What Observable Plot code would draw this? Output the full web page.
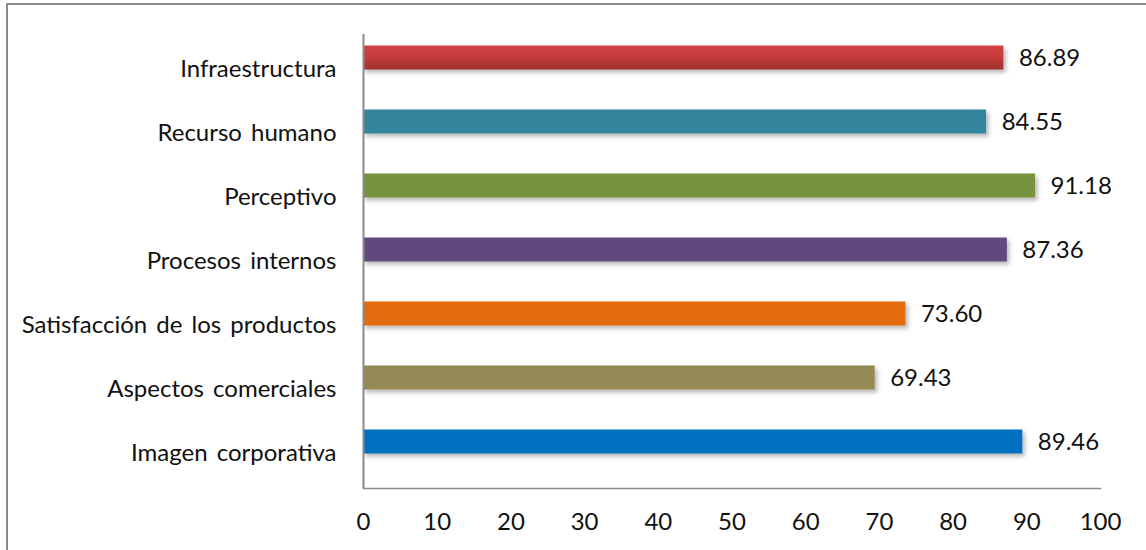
<!DOCTYPE html>
<html>
<head>
<meta charset="utf-8">
<script src="https://cdn.jsdelivr.net/npm/d3@7"></script>
<script src="https://cdn.jsdelivr.net/npm/@observablehq/plot@0.6"></script>
<style>
  html, body { margin: 0; padding: 0; background: #fff; }
  #wrap { position: relative; width: 1146px; height: 550px; overflow: hidden; }
  #border { position: absolute; left: 6px; top: 3px; width: 1200px; height: 600px;
            border-left: 2px solid #8a8a8a; border-top: 2px solid #8a8a8a; pointer-events: none; }
  #wrap svg { position: absolute; left: 0; top: 0; }
</style>
</head>
<body>
<div id="wrap"><div id="border"></div></div>
<script>
const categories = ["Infraestructura", "Recurso humano", "Perceptivo", "Procesos internos",
  "Satisfacción de los productos", "Aspectos comerciales", "Imagen corporativa"];
const values = [86.89, 84.55, 91.18, 87.36, 73.60, 69.43, 89.46];
const colors = ["#C43B3B", "#31859C", "#77933C", "#604A7B", "#E46C0A", "#948A54", "#0070C0"];
const xTicks = [0, 10, 20, 30, 40, 50, 60, 70, 80, 90, 100];

const data = categories.map((c, i) => ({category: c, value: values[i], color: colors[i]}));
const font = "Lato, 'Open Sans', sans-serif";
const fs = 24;

const chart = Plot.plot({
  width: 1146,
  height: 550,
  marginLeft: 363,
  marginRight: 46,
  marginTop: 34,
  marginBottom: 62,
  style: {fontFamily: font, fontSize: fs + "px", color: "#111", background: "transparent"},
  x: {domain: [0, 100], ticks: xTicks, label: null},
  y: {domain: categories, paddingInner: 0.63, paddingOuter: 0.315, label: null},
  color: {type: "identity"},
  marks: [
    Plot.axisX({ticks: xTicks, tickSize: 0, tickPadding: 24, fontSize: fs, label: null}),
    Plot.axisY({tickSize: 0, tickPadding: 27, fontSize: fs, label: null, className: "ylab"}),
    Plot.barX(data, {x: "value", y: "category", fill: "color", dy: -11.5, className: "bars"}),
    Plot.text(data, {x: "value", y: "category", text: d => d.value.toFixed(2), dx: 15, dy: -11.5,
      textAnchor: "start", fontSize: fs, fill: "#111"}),
    Plot.ruleX([0], {stroke: "#8a8a8a", strokeWidth: 2}),
    Plot.frame({anchor: "bottom", stroke: "#8a8a8a", strokeWidth: 1.5})
  ]
});

// decorative: drop shadow + gradient on first bar, slightly wider word spacing like the original
const ns = "http://www.w3.org/2000/svg";
const defs = document.createElementNS(ns, "defs");
defs.innerHTML = `
  <filter id="shadow" x="-5%" y="-50%" width="110%" height="200%">
    <feDropShadow dx="2.5" dy="3" stdDeviation="2" flood-color="#000" flood-opacity="0.28"/>
  </filter>
  <linearGradient id="redgrad" x1="0" y1="0" x2="0" y2="1">
    <stop offset="0" stop-color="#D24343"/>
    <stop offset="0.5" stop-color="#C43B3B"/>
    <stop offset="1" stop-color="#A02F2F"/>
  </linearGradient>`;
chart.insertBefore(defs, chart.firstChild);
const barGroup = chart.querySelector("g.bars");
if (barGroup) {
  barGroup.setAttribute("filter", "url(#shadow)");
  const rects = barGroup.querySelectorAll("rect");
  if (rects[0]) rects[0].setAttribute("fill", "url(#redgrad)");
}
const ylab = chart.querySelector("g.ylab");
if (ylab) ylab.setAttribute("word-spacing", "3");
document.getElementById("wrap").appendChild(chart);
</script>
</body>
</html>
